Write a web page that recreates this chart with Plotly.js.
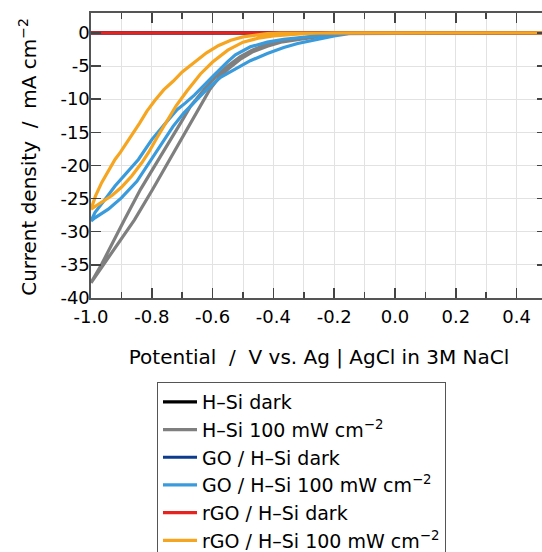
<!DOCTYPE html>
<html><head><meta charset="utf-8">
<script src="https://cdn.plot.ly/plotly-3.0.1.min.js"></script>
<style>html,body{margin:0;padding:0;overflow:hidden;background:#fff}</style>
</head><body><div id="chart" style="width:560px;height:552px"></div>
<script>
// Potential (V vs Ag|AgCl) and current density (mA cm^-2), cyclic scans: forward then reverse
const darkV = [-1.0, -0.5, 0.0, 0.5];
const hsiDarkJ = [0, 0, 0, 0];
const goDarkJ = [0, 0, 0, 0];
const rgoDarkJ = [0, 0, 0, 0];

const hsiLightFwdV = [-1.0,-0.965,-0.93,-0.895,-0.857,-0.797,-0.75,-0.703,-0.67,-0.64,-0.61,-0.58,-0.55,-0.51,-0.47,-0.42,-0.37,-0.31,-0.26,-0.22,-0.17,-0.13,-0.1,0.0,0.2,0.5];
const hsiLightFwdJ = [-37.7,-35.4,-33.0,-30.7,-28.2,-23.6,-19.8,-16.1,-13.3,-10.8,-8.6,-6.8,-5.5,-4.0,-2.9,-2.0,-1.35,-0.95,-0.6,-0.4,-0.12,-0.02,0,0,0,0];
const hsiLightRevV = [0.5,0.2,0.0,-0.13,-0.17,-0.22,-0.26,-0.31,-0.37,-0.42,-0.47,-0.51,-0.55,-0.59,-0.629,-0.673,-0.70,-0.738,-0.79,-0.837,-0.89,-0.93,-0.965,-1.0];
const hsiLightRevJ = [0,0,0,0,-0.08,-0.3,-0.5,-0.8,-1.2,-1.7,-2.6,-3.6,-5.0,-6.6,-8.6,-11.1,-13.2,-16.1,-19.9,-23.6,-28.2,-31.8,-34.9,-37.7];

const goLightFwdV = [-1.0,-0.987,-0.943,-0.9,-0.849,-0.80,-0.761,-0.73,-0.695,-0.65,-0.618,-0.574,-0.525,-0.476,-0.42,-0.366,-0.32,-0.278,-0.24,-0.2,-0.147,-0.1,0.0,0.2,0.5];
const goLightFwdJ = [-28.4,-27.9,-26.6,-24.9,-22.4,-19.0,-16.1,-14.1,-12.1,-9.9,-8.5,-6.7,-5.4,-4.2,-3.1,-2.2,-1.6,-1.2,-0.8,-0.45,-0.08,0,0,0,0];
const goLightRevV = [0.5,0.2,0.0,-0.12,-0.18,-0.256,-0.31,-0.366,-0.42,-0.476,-0.525,-0.552,-0.6,-0.64,-0.66,-0.69,-0.717,-0.76,-0.8,-0.844,-0.88,-0.921,-0.96,-0.987,-1.0];
const goLightRevJ = [0,0,0,0,-0.1,-0.45,-0.65,-0.96,-1.4,-2.1,-3.3,-4.4,-6.6,-8.5,-9.4,-10.6,-11.6,-13.9,-16.1,-19.1,-21.0,-23.1,-25.5,-27.1,-28.4];

const rgoLightFwdV = [-1.0,-0.965,-0.93,-0.9,-0.866,-0.833,-0.81,-0.784,-0.755,-0.72,-0.685,-0.64,-0.60,-0.55,-0.50,-0.45,-0.40,-0.35,-0.30,-0.25,-0.2,0.0,0.2,0.5];
const rgoLightFwdJ = [-26.6,-25.6,-24.5,-23.3,-21.6,-19.6,-18.0,-15.9,-13.6,-11.0,-8.8,-6.2,-4.4,-2.6,-1.4,-0.8,-0.45,-0.25,-0.12,-0.04,0,0,0,0];
const rgoLightRevV = [0.5,0.2,0.0,-0.34,-0.38,-0.42,-0.46,-0.50,-0.54,-0.58,-0.62,-0.66,-0.70,-0.73,-0.761,-0.79,-0.816,-0.84,-0.872,-0.903,-0.921,-0.965,-0.985,-1.0];
const rgoLightRevJ = [0,0,0,0,-0.03,-0.12,-0.3,-0.6,-1.1,-1.9,-3.0,-4.4,-5.9,-7.3,-8.6,-10.2,-11.8,-13.6,-15.9,-18.0,-19.1,-22.6,-24.6,-26.6];

const seriesNames = ['H\u2013Si dark','H\u2013Si 100 mW cm<sup>\u22122</sup>','GO / H\u2013Si dark','GO / H\u2013Si 100 mW cm<sup>\u22122</sup>','rGO / H\u2013Si dark','rGO / H\u2013Si 100 mW cm<sup>\u22122</sup>'];
const seriesColors = ['#000000','#7f7f7f','#0d3b8e','#3a9bdc','#e6231f','#f6a520'];

const xTickVals = [-1.0,-0.8,-0.6,-0.4,-0.2,0.0,0.2,0.4];
const xTickText = ['-1.0','-0.8','-0.6','-0.4','-0.2','0.0','0.2','0.4'];
const yTickVals = [0,-5,-10,-15,-20,-25,-30,-35,-40];
const yTickText = ['0','-5','-10','-15','-20','-25','-30','-35','-40'];
const xTitle = 'Potential\u00a0 /\u00a0 V vs. Ag | AgCl in 3M NaCl';
const yTitle = 'Current density\u00a0 /\u00a0 mA cm<sup>\u22122</sup>';

const xs = [darkV, hsiLightFwdV.concat(hsiLightRevV), darkV, goLightFwdV.concat(goLightRevV), darkV, rgoLightFwdV.concat(rgoLightRevV)];
const ys = [hsiDarkJ, hsiLightFwdJ.concat(hsiLightRevJ), goDarkJ, goLightFwdJ.concat(goLightRevJ), rgoDarkJ, rgoLightFwdJ.concat(rgoLightRevJ)];

const traces = xs.map((x, i) => ({
  x: x, y: ys[i], type: 'scatter', mode: 'lines', name: seriesNames[i],
  line: {color: seriesColors[i], width: 3.2}
}));

const FONT = 'DejaVu Sans, Liberation Sans, Arial, sans-serif';
const axisCommon = {
  showline: true, linecolor: '#555', linewidth: 1.6, mirror: 'ticks',
  ticks: 'inside', tickcolor: '#444', tickwidth: 1.5,
  showgrid: true, gridcolor: '#e2e2e2', gridwidth: 1, zeroline: false,
  tickfont: {family: FONT, size: 18, color: '#000'}, automargin: false
};

const layout = {
  width: 560, height: 552,
  margin: {l: 91, r: 13, t: 13, b: 254, autoexpand: false},
  paper_bgcolor: '#fff', plot_bgcolor: '#fff',
  showlegend: true,
  xaxis: Object.assign({}, axisCommon, {
    range: [-1.0, 0.5], tickmode: 'array', tickvals: xTickVals, ticktext: xTickText, ticklen: 10,
    ticklabelstandoff: 2,
    minor: {tickmode: 'linear', tick0: -1.0, dtick: 0.1, ticks: 'inside', ticklen: 6, tickcolor: '#444', tickwidth: 1.5, showgrid: true, gridcolor: '#e2e2e2', gridwidth: 1},
    title: {text: xTitle, font: {family: FONT, size: 20, color: '#000'}, standoff: 24}
  }),
  yaxis: Object.assign({}, axisCommon, {
    range: [-40, 3], tickmode: 'array', tickvals: yTickVals, ticktext: yTickText, ticklen: 10,
    ticklabelstandoff: -4
  }),
  annotations: [{
    text: yTitle, xref: 'paper', yref: 'paper', x: -0.14, y: 0.496,
    xanchor: 'center', yanchor: 'middle', textangle: -90, showarrow: false,
    font: {family: FONT, size: 20, color: '#000'}
  }],
  legend: {
    x: 157 / 560, y: 1 - 382 / 552, xanchor: 'left', yanchor: 'top', xref: 'container', yref: 'container',
    bordercolor: '#555', borderwidth: 1, bgcolor: '#fff',
    font: {family: FONT, size: 19, color: '#000'}, traceorder: 'normal', itemwidth: 34
  }
};

Plotly.newPlot('chart', traces, layout, {staticPlot: true, displayModeBar: false});
</script></body></html>
